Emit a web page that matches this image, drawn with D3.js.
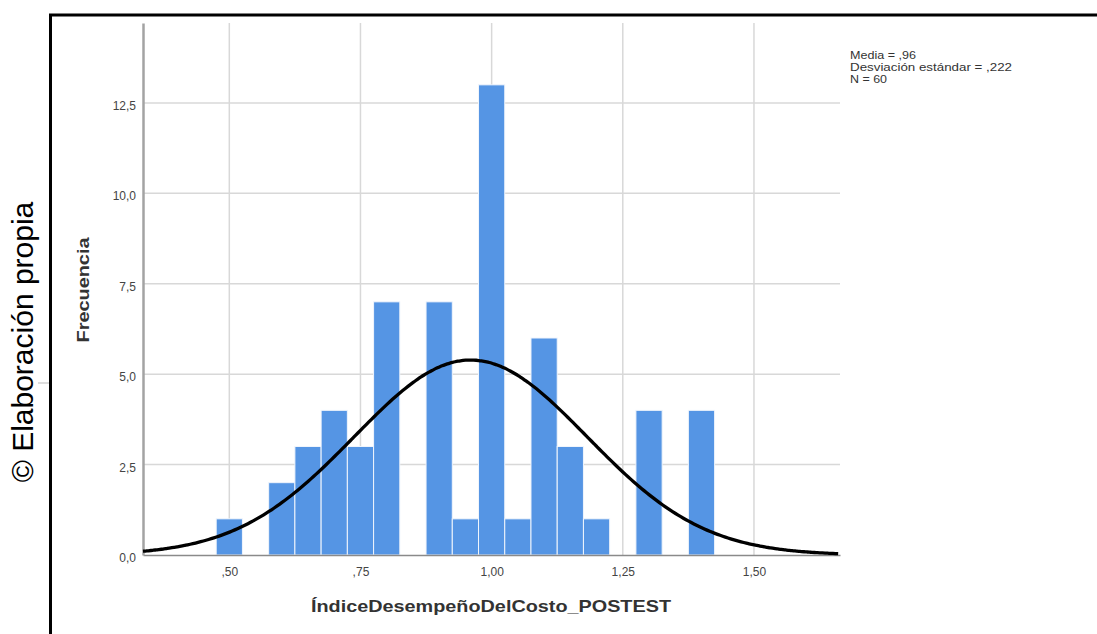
<!DOCTYPE html>
<html>
<head>
<meta charset="utf-8">
<script src="https://cdn.jsdelivr.net/npm/d3@7"></script>
<style>
  html, body { margin: 0; padding: 0; background: #fff; }
  #app { width: 1097px; height: 634px; }
  text { font-family: "Liberation Sans", Arial, sans-serif; }
</style>
</head>
<body>
<div id="app"></div>
<script>
`use strict`;

// histogram bins (centre of each 0.05 wide bin) and their counts
const binCenters = [0.50, 0.60, 0.65, 0.70, 0.75, 0.80, 0.90, 0.95, 1.00, 1.05, 1.10, 1.15, 1.20, 1.30, 1.40];
const binCounts = [1, 2, 3, 4, 3, 7, 7, 1, 13, 1, 6, 3, 1, 4, 4];
const binWidth = 0.05;

// summary shown at top right, also used for the normal curve
const statMean = 0.96;
const statSd = 0.222;
const statN = 60;
const statLines = [`Media = ,96`, `Desviación estándar = ,222`, `N = 60`];

const xTicks = [0.50, 0.75, 1.00, 1.25, 1.50];
const xTickLabels = [`,50`, `,75`, `1,00`, `1,25`, `1,50`];
const yTicks = [0, 2.5, 5, 7.5, 10, 12.5];
const yTickLabels = [`0,0`, `2,5`, `5,0`, `7,5`, `10,0`, `12,5`];

const W = 1097, H = 634;
const plot = {left: 143, right: 840, top: 23, bottom: 555};

const svg = d3.select(`#app`).append(`svg`).attr(`width`, W).attr(`height`, H);

let x = d3.scaleLinear().domain([0.3355, 1.664]).range([plot.left, plot.right]);
let y = d3.scaleLinear().domain([0, 14.71]).range([plot.bottom, plot.top]);

// grid
let grid = svg.append(`g`).attr(`stroke`, `#d8d8d8`).attr(`stroke-width`, 1.5);

grid.selectAll(`line.gx`).data(xTicks).enter().append(`line`)
  .attr(`x1`, d => x(d)).attr(`x2`, d => x(d))
  .attr(`y1`, plot.top).attr(`y2`, plot.bottom);

grid.selectAll(`line.gy`).data(yTicks.slice(1)).enter().append(`line`)
  .attr(`x1`, plot.left).attr(`x2`, plot.right)
  .attr(`y1`, d => y(d)).attr(`y2`, d => y(d));

// bars
let bins = binCenters.map((c, i) => [c, binCounts[i]]);

svg.append(`g`).selectAll(`rect`).data(bins).enter().append(`rect`)
  .attr(`x`, d => x(d[0] - binWidth / 2))
  .attr(`y`, d => y(d[1]))
  .attr(`width`, d => x(d[0] + binWidth / 2) - x(d[0] - binWidth / 2))
  .attr(`height`, d => y(0) - y(d[1]))
  .attr(`fill`, `#5595e4`)
  .attr(`stroke`, `#f0f5fc`)
  .attr(`stroke-width`, 1);

// axes
let xAxis = svg.append(`g`).attr(`transform`, `translate(0,${plot.bottom})`)
  .call(d3.axisBottom(x).tickValues(xTicks).tickSize(0).tickPadding(12).tickFormat((d, i) => xTickLabels[i]));
xAxis.select(`.domain`).attr(`stroke`, `#8a8a8a`).attr(`stroke-width`, 1.6);
xAxis.selectAll(`text`).attr(`font-size`, 12).attr(`fill`, `#444`);

let yAxis = svg.append(`g`).attr(`transform`, `translate(${plot.left},0)`)
  .call(d3.axisLeft(y).tickValues(yTicks).tickSize(0).tickPadding(7).tickFormat((d, i) => yTickLabels[i]));
yAxis.select(`.domain`).attr(`stroke`, `#a3a3a3`).attr(`stroke-width`, 2.5);
yAxis.selectAll(`text`).attr(`font-size`, 12).attr(`fill`, `#444`).attr(`dy`, `0.55em`);

// fitted normal curve from the stated mean / sd / N
let scaleK = statN * binWidth / (statSd * Math.sqrt(2 * Math.PI));
let curve = d3.range(x.domain()[0], x.domain()[1] + 0.0001, 0.005).map(v => [v, scaleK * Math.exp(-0.5 * Math.pow((v - statMean) / statSd, 2))]);

svg.append(`path`).datum(curve)
  .attr(`d`, d3.line().x(d => x(d[0])).y(d => y(d[1])).curve(d3.curveBasis))
  .attr(`fill`, `none`)
  .attr(`stroke`, `#000`)
  .attr(`stroke-width`, 3.3);

// titles
svg.append(`text`)
  .attr(`x`, 491).attr(`y`, 612)
  .attr(`text-anchor`, `middle`)
  .attr(`font-size`, 17).attr(`font-weight`, `bold`).attr(`fill`, `#333`)
  .attr(`textLength`, 360).attr(`lengthAdjust`, `spacingAndGlyphs`)
  .text(`ÍndiceDesempeñoDelCosto_POSTEST`);

svg.append(`text`)
  .attr(`transform`, `translate(89,290) rotate(-90)`)
  .attr(`text-anchor`, `middle`)
  .attr(`font-size`, 16).attr(`font-weight`, `bold`).attr(`fill`, `#333`)
  .attr(`textLength`, 105).attr(`lengthAdjust`, `spacingAndGlyphs`)
  .text(`Frecuencia`);

// stats box text
let statLen = [66, 162, 37];
svg.append(`g`).selectAll(`text`).data(statLines).enter().append(`text`)
  .attr(`x`, 850).attr(`y`, (d, i) => 59 + i * 12)
  .attr(`font-size`, 11).attr(`fill`, `#333`)
  .attr(`textLength`, (d, i) => statLen[i]).attr(`lengthAdjust`, `spacingAndGlyphs`)
  .text(d => d);

// outer frame (left and top edge only)
svg.append(`path`)
  .attr(`d`, `M50.5,${H} L50.5,15 L${W},15`)
  .attr(`fill`, `none`).attr(`stroke`, `#000`).attr(`stroke-width`, 3);

svg.append(`line`)
  .attr(`x1`, 38).attr(`x2`, 49).attr(`y1`, 383).attr(`y2`, 383)
  .attr(`stroke`, `#bbb`).attr(`stroke-width`, 1);

// source note
svg.append(`text`)
  .attr(`transform`, `translate(33,342) rotate(-90)`)
  .attr(`text-anchor`, `middle`)
  .attr(`font-size`, 30).attr(`fill`, `#000`)
  .text(`© Elaboración propia`);
</script>
</body>
</html>
